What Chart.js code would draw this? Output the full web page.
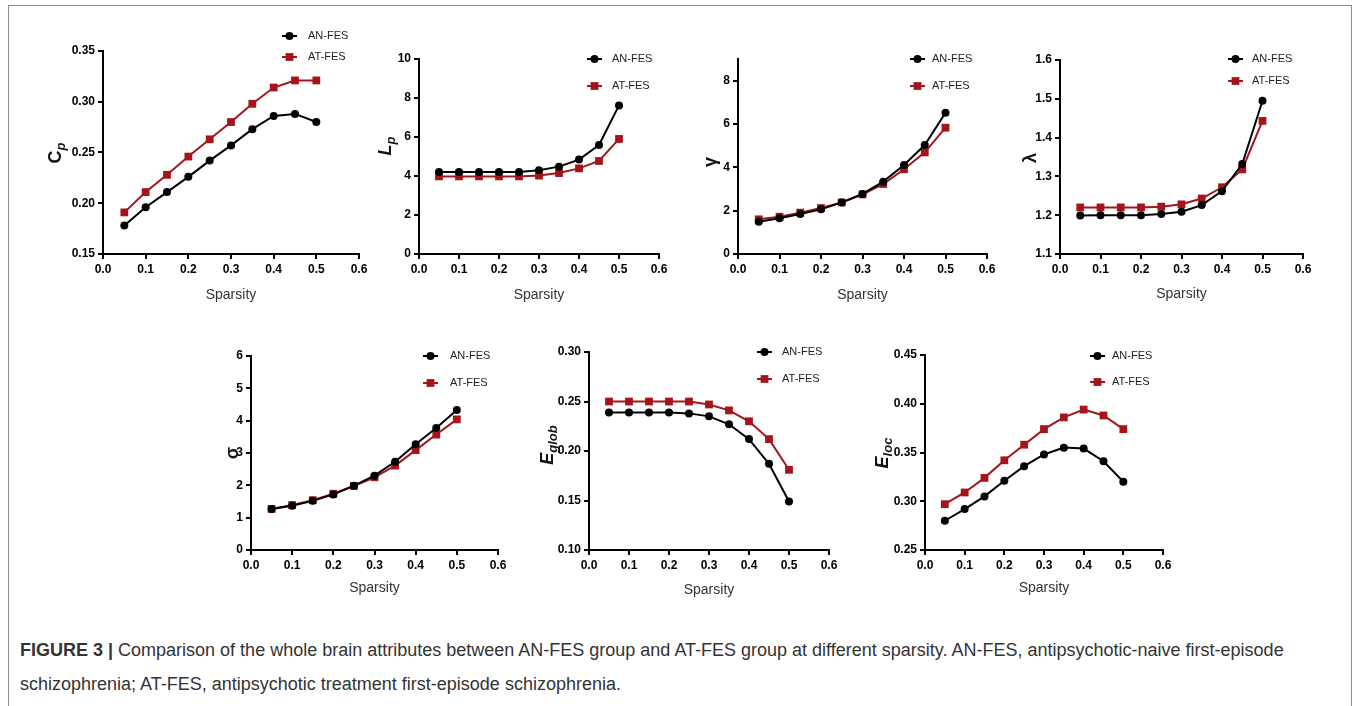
<!DOCTYPE html>
<html><head><meta charset="utf-8">
<script src="https://cdn.jsdelivr.net/npm/chart.js@4.4.1/dist/chart.umd.min.js"></script>
<style>
html,body{margin:0;padding:0;background:#fff;}
body{width:1357px;height:706px;position:relative;overflow:hidden;font-family:"Liberation Sans",Arial,sans-serif;}
#frame{position:absolute;left:8px;top:5px;width:1344px;height:730px;border:1px solid #8c8c8c;box-sizing:border-box;}
canvas{position:absolute;}
#caption{position:absolute;left:20px;top:633px;width:1320px;font-size:18px;line-height:34px;color:#333;white-space:nowrap;}
</style></head><body>
<div id="frame"></div>
<div id="caption"><b>FIGURE 3 |</b> Comparison of the whole brain attributes between AN-FES group and AT-FES group at different sparsity. AN-FES, antipsychotic-naive first-episode<br>schizophrenia; AT-FES, antipsychotic treatment first-episode schizophrenia.</div>
<script>
// ---- data ----
const sparsity = [0.05,0.10,0.15,0.20,0.25,0.30,0.35,0.40,0.45,0.50];
const xTickValues = [0.0,0.1,0.2,0.3,0.4,0.5,0.6];
const seriesNames = ['AN-FES','AT-FES'];

const cpAN = [0.178,0.196,0.211,0.226,0.242,0.257,0.273,0.286,0.288,0.280];
const cpAT = [0.191,0.211,0.228,0.246,0.263,0.280,0.298,0.314,0.321,0.321];
const cpTicks = [0.15,0.20,0.25,0.30,0.35];

const lpAN = [4.20,4.20,4.20,4.20,4.21,4.29,4.48,4.84,5.59,7.62];
const lpAT = [3.98,3.98,3.98,3.98,3.98,4.02,4.15,4.39,4.77,5.90];
const lpTicks = [0,2,4,6,8,10];

const gammaAN = [1.49,1.65,1.85,2.06,2.38,2.77,3.34,4.11,5.03,6.52];
const gammaAT = [1.60,1.72,1.91,2.12,2.38,2.75,3.23,3.91,4.69,5.83];
const gammaTicks = [0,2,4,6,8];

const lambdaAN = [1.199,1.200,1.200,1.200,1.203,1.209,1.226,1.262,1.332,1.495];
const lambdaAT = [1.220,1.220,1.220,1.220,1.222,1.228,1.243,1.272,1.318,1.443];
const lambdaTicks = [1.1,1.2,1.3,1.4,1.5,1.6];

const sigmaAN = [1.27,1.37,1.52,1.72,1.99,2.30,2.73,3.27,3.77,4.33];
const sigmaAT = [1.27,1.39,1.54,1.74,1.98,2.25,2.61,3.09,3.57,4.04];
const sigmaTicks = [0,1,2,3,4,5,6];

const eglobAN = [0.239,0.239,0.239,0.239,0.238,0.235,0.227,0.212,0.187,0.149];
const eglobAT = [0.250,0.250,0.250,0.250,0.250,0.247,0.241,0.230,0.212,0.181];
const eglobTicks = [0.10,0.15,0.20,0.25,0.30];

const elocAN = [0.280,0.292,0.305,0.321,0.336,0.348,0.355,0.354,0.341,0.320];
const elocAT = [0.297,0.309,0.324,0.342,0.358,0.374,0.386,0.394,0.388,0.374];
const elocTicks = [0.25,0.30,0.35,0.40,0.45];

// ---- layout (absolute page px) ----
const panels = [
 {an:cpAN, at:cpAT, ticks:cpTicks, yMax:0.35, dec:2, main:'C', sub:'p', italicMain:false,
  box:[103,359,51,254], yLab:[55,153], leg:[282,308,36,57], xt:41},
 {an:lpAN, at:lpAT, ticks:lpTicks, yMax:10, dec:0, main:'L', sub:'p', italicMain:true,
  box:[419,659,59,254], yLab:[385,146], leg:[587,612,59,86], xt:41},
 {an:gammaAN, at:gammaAT, ticks:gammaTicks, yMax:9, dec:0, main:'γ', sub:'', italicMain:false,
  box:[738,987,59,254], yLab:[710,162], leg:[910,932,59,86], xt:41},
 {an:lambdaAN, at:lambdaAT, ticks:lambdaTicks, yMax:1.6, dec:1, main:'λ', sub:'', italicMain:false,
  box:[1060,1303,60,254], yLab:[1030,158], leg:[1228,1252,59,81], xt:40},
 {an:sigmaAN, at:sigmaAT, ticks:sigmaTicks, yMax:6, dec:0, main:'σ', sub:'', italicMain:false,
  box:[251,498,356,550], yLab:[232,453], leg:[423,450,356,383], xt:38},
 {an:eglobAN, at:eglobAT, ticks:eglobTicks, yMax:0.30, dec:2, main:'E', sub:'glob', italicMain:true,
  box:[589,829,352,550], yLab:[547,445], leg:[757,782,352,379], xt:40},
 {an:elocAN, at:elocAT, ticks:elocTicks, yMax:0.45, dec:2, main:'E', sub:'loc', italicMain:true,
  box:[925,1163,355,550], yLab:[882,453], leg:[1090,1112,356,382], xt:38}
];

const PADL = 70, PADT = 30, PADR = 15, PADB = 55;
const BLACK = '#000000', RED = '#a5141b';
const FONT = '"Liberation Sans", Arial, sans-serif';

function drawMarker(ctx, style, x, y, r, color){
  ctx.fillStyle = color;
  ctx.beginPath();
  if (style === 'circle') { ctx.arc(x, y, r, 0, Math.PI*2); }
  else { const s = Math.SQRT1_2 * r; ctx.rect(x - s, y - s, 2*s, 2*s); }
  ctx.fill();
}

const decor = {
  id: 'decor',
  afterDraw(chart, args, o) {
    const ctx = chart.ctx, ca = chart.chartArea;
    const p = o.panel;
    const toX = ax => ax - p.box[0] + ca.left;
    const toY = ay => ay - p.box[2] + ca.top;
    ctx.save();
    // x title
    ctx.fillStyle = '#333';
    ctx.font = '14px ' + FONT;
    ctx.textAlign = 'center';
    ctx.textBaseline = 'middle';
    ctx.fillText('Sparsity', (ca.left + ca.right) / 2, ca.bottom + p.xt);
    // y title (rotated)
    ctx.save();
    ctx.translate(toX(p.yLab[0]), toY(p.yLab[1]));
    ctx.rotate(-Math.PI / 2);
    const mainFont = 'bold ' + (p.italicMain ? 'italic ' : '') + '18px ' + FONT;
    const subFont = 'bold italic 13px ' + FONT;
    ctx.font = mainFont; const w1 = ctx.measureText(p.main).width;
    ctx.font = subFont; const w2 = p.sub ? ctx.measureText(p.sub).width : 0;
    const tot = w1 + w2;
    ctx.textAlign = 'left'; ctx.textBaseline = 'alphabetic';
    ctx.fillStyle = '#111';
    ctx.font = mainFont; ctx.fillText(p.main, -tot / 2, 6);
    if (p.sub) { ctx.font = subFont; ctx.fillText(p.sub, -tot / 2 + w1, 10); }
    ctx.restore();
    // legend
    const items = [
      {name: seriesNames[0], color: BLACK, style: 'circle', r: 4, y: p.leg[2]},
      {name: seriesNames[1], color: RED, style: 'rect', r: 5.5, y: p.leg[3]}
    ];
    items.forEach(it => {
      const x1 = toX(p.leg[0]), x2 = x1 + 15, y = toY(it.y);
      ctx.strokeStyle = it.color; ctx.lineWidth = 2;
      ctx.beginPath(); ctx.moveTo(x1, y); ctx.lineTo(x2, y); ctx.stroke();
      drawMarker(ctx, it.style, (x1 + x2) / 2, y, it.r, it.color);
      ctx.fillStyle = '#222';
      ctx.font = '11px ' + FONT;
      ctx.textAlign = 'left'; ctx.textBaseline = 'middle';
      ctx.fillText(it.name, toX(p.leg[1]), y);
    });
    ctx.restore();
  }
};

panels.forEach(p => {
  const [L, R, T, B] = p.box;
  const cv = document.createElement('canvas');
  const w = (R - L) + PADL + PADR, h = (B - T) + PADT + PADB;
  cv.width = w; cv.height = h;
  cv.style.left = (L - PADL) + 'px';
  cv.style.top = (T - PADT) + 'px';
  cv.style.width = w + 'px'; cv.style.height = h + 'px';
  document.body.appendChild(cv);
  const mk = arr => sparsity.map((x, i) => ({x: x, y: arr[i]}));
  const axisCommon = {
    border: {display: true, color: '#000', width: 2},
    grid: {display: true, drawOnChartArea: false, drawTicks: true, tickLength: 5, color: '#000', lineWidth: 2},
  };
  new Chart(cv, {
    type: 'line',
    data: {
      datasets: [
        {label: seriesNames[0], data: mk(p.an), borderColor: BLACK, backgroundColor: BLACK,
         borderWidth: 2, pointStyle: 'circle', pointRadius: 4, pointBorderWidth: 0, tension: 0},
        {label: seriesNames[1], data: mk(p.at), borderColor: RED, backgroundColor: RED,
         borderWidth: 2, pointStyle: 'rect', pointRadius: 5.5, pointBorderWidth: 0, tension: 0}
      ]
    },
    options: {
      responsive: false, animation: false, devicePixelRatio: 1,
      layout: {padding: {left: 0, top: PADT, right: PADR, bottom: 0}},
      plugins: {legend: {display: false}, tooltip: {enabled: false}, decor: {panel: p}},
      scales: {
        x: Object.assign({}, axisCommon, {
          type: 'linear', min: 0, max: 0.6,
          afterBuildTicks: s => { s.ticks = xTickValues.map(v => ({value: v})); },
          afterFit: s => { s.height = PADB; },
          ticks: {color: '#000', font: {family: FONT, size: 12, weight: 'bold'}, padding: 3,
                  maxRotation: 0, autoSkip: false, callback: v => Number(v).toFixed(1)}
        }),
        y: Object.assign({}, axisCommon, {
          type: 'linear', min: p.ticks[0], max: p.yMax,
          afterBuildTicks: s => { s.ticks = p.ticks.map(v => ({value: v})); },
          afterFit: s => { s.width = PADL; },
          ticks: {color: '#000', font: {family: FONT, size: 12, weight: 'bold'}, padding: 3,
                  autoSkip: false, callback: v => Number(v).toFixed(p.dec)}
        })
      }
    },
    plugins: [decor]
  });
});
</script>
</body></html>
